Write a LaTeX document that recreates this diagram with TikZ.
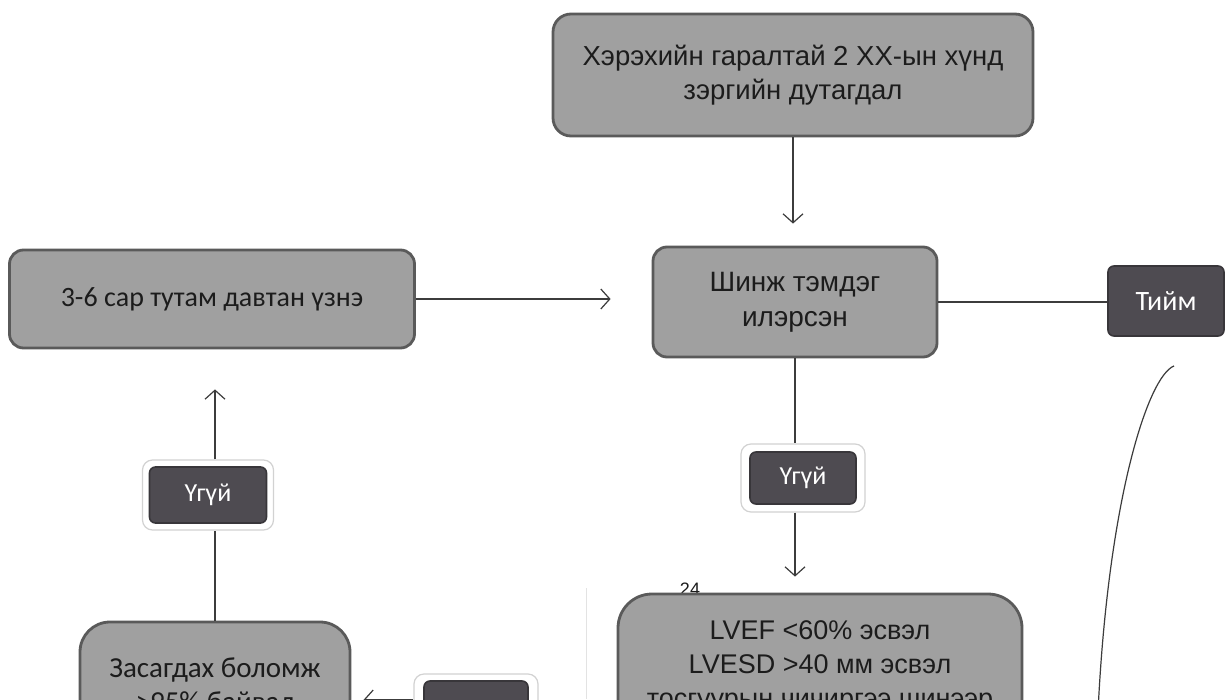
\documentclass[tikz,border=0pt]{standalone}
\usepackage{fontspec}
\setmainfont{Liberation Sans}
\newfontfamily\calfont{Carlito}
\usetikzlibrary{arrows.meta,calc}
\definecolor{boxfill}{HTML}{A0A0A0}
\definecolor{boxedge}{HTML}{5A5A5A}
\definecolor{darkfill}{HTML}{4E4B51}
\definecolor{darkedge}{HTML}{38363A}
\definecolor{haloedge}{HTML}{D2D2D2}
\definecolor{linec}{HTML}{3C3C3C}
\definecolor{txt}{HTML}{1C1C1C}
\tikzset{
  gbox/.style={draw=boxedge, fill=boxfill, line width=2.8pt, align=center, text=txt, inner sep=0pt},
  dbox/.style={draw=darkedge, fill=darkfill, line width=1.6pt, rounded corners=6pt, text=white,
    font=\calfont\fontsize{26}{30}\selectfont, inner sep=0pt},
  halo/.style={draw=haloedge, fill=white, line width=1.2pt, rounded corners=10pt, inner sep=0pt},
  conn/.style={draw=linec, line width=1.2pt},
  arr/.style={conn, -{Straight Barb[length=9pt,width=20pt]}},
  afont/.style={font=\fontsize{27.5}{34}\selectfont},
  cfont/.style={font=\calfont\fontsize{28}{34}\selectfont},
}
\begin{document}
\begin{tikzpicture}[x=1pt,y=-1pt]
\useasboundingbox (0,0) rectangle (1226,699);
\clip (0,0) rectangle (1226,699);
\fill[white] (0,0) rectangle (1226,699);

% faint scan edge
\draw[gray!22, line width=1pt] (586,588) -- (586,699);

% boxes
\node[gbox, afont, rounded corners=18pt, minimum width=480pt, minimum height=122pt] (top) at (793,75)
  {Хэрэхийн гаралтай 2 ХХ-ын хүнд\\зэргийн дутагдал};
\node[gbox, cfont, rounded corners=14pt, minimum width=405pt, minimum height=98pt] (rep) at (212,299)
  {3-6 сар тутам давтан үзнэ};
\node[gbox, font=\fontsize{28}{35}\selectfont, rounded corners=14pt, minimum width=284pt, minimum height=110pt] (sym) at (795,302)
  {Шинж тэмдэг\\илэрсэн};
\node[dbox, font=\calfont\fontsize{28}{30}\selectfont, minimum width=116pt, minimum height=70pt] (yes) at (1166,301) {Тийм};

\node[halo, minimum width=124pt, minimum height=68pt] (noh) at (803,478) {};
\node[dbox, minimum width=106pt, minimum height=52pt] (no1) at (803,478) {Үгүй};

\node[halo, minimum width=131pt, minimum height=70pt] (nohL) at (208,495) {};
\node[dbox, minimum width=117pt, minimum height=56pt] (no2) at (208,495) {Үгүй};

\node[font=\fontsize{18}{20}\selectfont, text=txt, inner sep=0pt] (pg) at (690,589) {24};

\node[gbox, font=\fontsize{27}{34}\selectfont, rounded corners=34pt, minimum width=404pt, minimum height=145pt] (lvef) at (820,666.5)
  {LVEF <60\% эсвэл\\LVESD >40 мм эсвэл\\тосгуурын чичиргээ шинээр};
\node[gbox, font=\calfont\fontsize{29}{34}\selectfont, rounded corners=30pt, minimum width=270pt, minimum height=126pt] (zas) at (215,685)
  {Засагдах боломж\\>95\% байвал};

\node[halo, minimum width=124pt, minimum height=72pt] (thalo) at (476,710) {};
\node[dbox, minimum width=104pt, minimum height=58pt] (tbot) at (476,710) {};

% connectors
\draw[arr, shorten >=22pt] (top.south) -- (top.south |- sym.north);
\draw[arr, shorten >=41pt] (rep.east) -- (rep.east -| sym.west);
\draw[conn] (sym.east) -- (sym.east -| yes.west);
\draw[conn] (sym.south) -- (sym.south |- noh.north);
\draw[arr, shorten >=16pt] (sym.south |- noh.south) -- (sym.south |- lvef.north);
\draw[conn] (zas.north) -- (zas.north |- nohL.south);
\draw[arr, shorten >=40pt] (zas.north |- nohL.north) -- (zas.north |- rep.south);
\draw[arr, shorten >=12pt] ([yshift=10pt]thalo.west) -- ([yshift=10pt]thalo.west -| zas.east);

\coordinate (cv1) at (1174,366);
\coordinate (cv2) at (1098,712);
\draw[conn] (cv1) .. controls (1148,376) and (1108,500) .. (cv2);
\end{tikzpicture}
\end{document}
